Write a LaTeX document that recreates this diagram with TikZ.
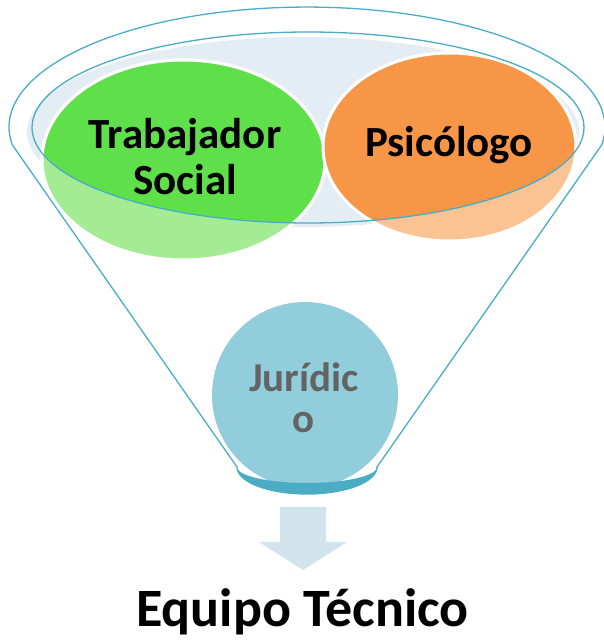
\documentclass[tikz,border=0pt]{standalone}
\usepackage{fontspec}
\setmainfont{Carlito}
\definecolor{rimline}{HTML}{4BACC6}
\definecolor{rimfill}{HTML}{E4EDF3}
\definecolor{greenfull}{HTML}{5FE04A}
\definecolor{greenlight}{HTML}{A3EC93}
\definecolor{orangefull}{HTML}{F79646}
\definecolor{orangelight}{HTML}{F9C394}
\definecolor{jurfill}{HTML}{92CDDC}
\definecolor{jurtext}{HTML}{636363}
\definecolor{arrowfill}{HTML}{D1E4EC}
\begin{document}
\begin{tikzpicture}[
    x=1pt, y=1pt,
    rim/.style={draw=rimline, line width=1.3pt},
    bubble/.style={draw=white, line width=3pt},
    label/.style={font=\bfseries\fontsize{43}{46}\selectfont, align=center, inner sep=0pt},
    smalllabel/.style={font=\bfseries\fontsize{41}{41}\selectfont, align=center, inner sep=0pt, text=jurtext}
]
\useasboundingbox (0,0) rectangle (604,641);

% Funnel
\draw[rim] (12.4,496) arc[start angle=188.6, end angle=-8.6, x radius=298, y radius=120]
    -- (377,174) arc[start angle=0, end angle=-180, x radius=70, y radius=27] -- cycle;
\fill[rimfill] (303,509) ellipse[x radius=276, y radius=95];

% Bubbles (light part outside the rim)
\draw[bubble, fill=greenlight] (183.5,481) ellipse[x radius=141.5, y radius=100];
\draw[bubble, fill=orangelight] (449.5,494) ellipse[x radius=126.5, y radius=94];
\begin{scope}
    \clip (308,513.5) ellipse[x radius=276, y radius=95.5];
    \draw[bubble, fill=greenfull] (183.5,481) ellipse[x radius=141.5, y radius=100];
    \draw[bubble, fill=orangefull] (449.5,494) ellipse[x radius=126.5, y radius=94];
\end{scope}
\draw[rim] (308,513.5) ellipse[x radius=276, y radius=95.5];

% Nodes
\node[circle, fill=jurfill, minimum size=186pt, inner sep=0pt] (juridico) at (305,246) {};
\fill[rimline] (237,174) arc[start angle=180, end angle=360, x radius=70, y radius=27]
    arc[start angle=0, end angle=-180, x radius=70, y radius=16] -- cycle;
\node[label] (trabajador) at (185,484) {Trabajador\\Social};
\node[label, anchor=base] (psicologo) at (449,484) {Psicólogo};
\node[smalllabel] (juridicotext) at (304,243) {Jurídic\\o};

% Arrow
\fill[arrowfill] (280,134) -- (326,134) -- (326,99) -- (347,99) -- (303,71)
    -- (259,99) -- (280,99) -- cycle;
\node[font=\bfseries\fontsize{54}{58}\selectfont, anchor=base, inner sep=0pt] (equipo) at (302.5,14) {Equipo Técnico};

\end{tikzpicture}
\end{document}
